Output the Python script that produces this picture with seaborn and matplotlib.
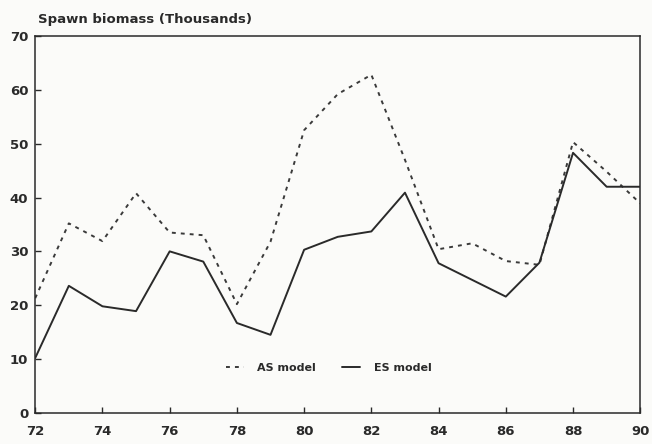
import matplotlib
matplotlib.use("Agg")
import matplotlib.pyplot as plt
import seaborn as sns
import pandas as pd

# Spawning biomass (thousands) estimated by two assessment models, 1972-1990
years = list(range(72, 91))
as_model = [21.3, 35.2, 31.9, 40.8, 33.5, 33.0, 20.2, 31.8, 52.5, 59.2,
            62.8, 47.0, 30.4, 31.5, 28.2, 27.5, 50.3, 44.8, 38.9]
es_model = [10.2, 23.6, 19.8, 18.9, 30.0, 28.1, 16.7, 14.5, 30.3, 32.7,
            33.7, 40.9, 27.8, 24.7, 21.6, 27.9, 48.3, 42.0, 42.0]
series_names = ["AS model", "ES model"]
x_ticks = list(range(72, 91, 2))
y_ticks = list(range(0, 71, 10))

df = pd.DataFrame({
    "year": years * 2,
    "biomass": as_model + es_model,
    "model": [series_names[0]] * len(years) + [series_names[1]] * len(years),
})

sns.set_theme(style="ticks")
plt.rcParams["font.family"] = ["DejaVu Sans"]
plt.rcParams["font.weight"] = "bold"

fig = plt.figure(figsize=(6.52, 4.44), dpi=100, facecolor="#fbfbf9")
ax = fig.add_axes([0.054, 0.070, 0.928, 0.849])
ax.set_facecolor("#fbfbf9")

sns.lineplot(
    data=df, x="year", y="biomass", hue="model", style="model",
    hue_order=series_names, style_order=series_names,
    palette=["#3a3a3a", "#2a2a2a"],
    dashes={"AS model": (2.0, 2.6), "ES model": ""},
    linewidth=1.4, ax=ax, legend=True,
)

ax.set_xlim(72, 90)
ax.set_ylim(0, 70)
ax.set_xticks(x_ticks)
ax.set_yticks(y_ticks)
ax.set_xlabel("")
ax.set_ylabel("")
ax.tick_params(direction="in", length=4, width=1, colors="#2a2a2a",
               labelsize=9.5)
ax.tick_params(axis="x", pad=9)
ax.tick_params(axis="y", pad=5)
for lab in ax.get_xticklabels() + ax.get_yticklabels():
    lab.set_fontweight("bold")
    lab.set_color("#2a2a2a")
for sp in ax.spines.values():
    sp.set_visible(True)
    sp.set_color("#2a2a2a")
    sp.set_linewidth(1.1)

fig.text(0.058, 0.957, "Spawn biomass (Thousands)", fontsize=9.5,
         fontweight="bold", color="#2a2a2a", ha="left", va="center")

leg = ax.legend(loc="center", bbox_to_anchor=(0.485, 0.12), ncol=2,
                frameon=False, handlelength=1.6, handletextpad=1.2,
                columnspacing=2.4, prop={"size": 8, "weight": "bold"})
for t in leg.get_texts():
    t.set_color("#2a2a2a")

fig.savefig("out.png", dpi=100, facecolor=fig.get_facecolor())
